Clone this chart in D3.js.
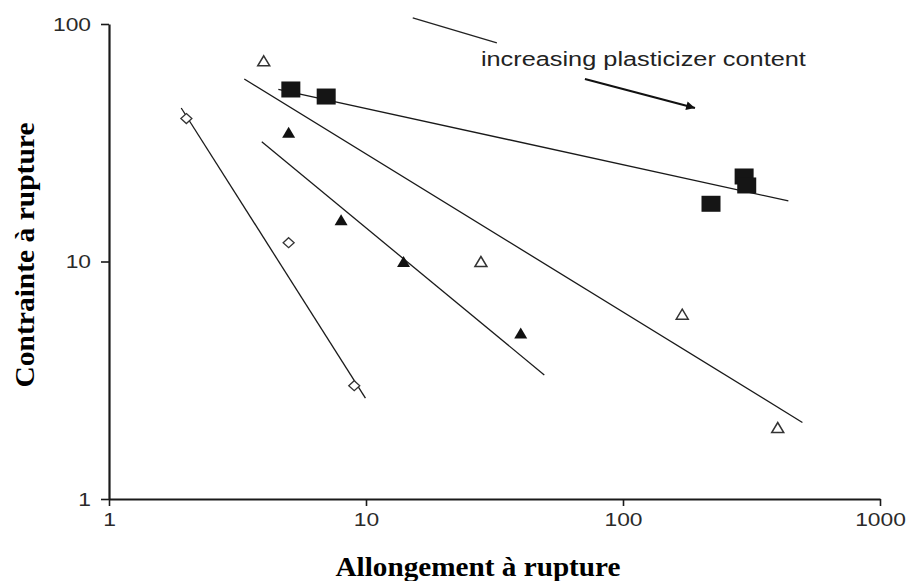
<!DOCTYPE html>
<html>
<head>
<meta charset="utf-8">
<script src="https://cdn.jsdelivr.net/npm/d3@7"></script>
<style>
  html, body { margin: 0; padding: 0; background: #fff; }
  svg { display: block; }
</style>
</head>
<body>
<svg id="chart" width="909" height="581"></svg>
<script>
// Elongation at break (%) vs stress at break (MPa), log-log
const xTicks = [1, 10, 100, 1000];
const yTicks = [1, 10, 100];

// Open diamonds
const diamondX = [2, 5, 9];
const diamondY = [40, 12, 3];
// Filled triangles
const filledTriX = [5, 8, 14, 40];
const filledTriY = [35, 15, 10, 5];
// Open triangles
const openTriX = [4, 28, 170, 400];
const openTriY = [70, 10, 6, 2];
// Filled squares
const squareX = [5.1, 7, 220, 296, 303];
const squareY = [53, 49.5, 17.5, 22.8, 20.9];

// Power-law trend lines (end points)
const diamondFitX = [1.91, 9.95];
const diamondFitY = [44.3, 2.66];
const filledTriFitX = [3.93, 49.4];
const filledTriFitY = [31.9, 3.33];
const openTriFitX = [3.36, 499];
const openTriFitY = [58.7, 2.1];
const squareFitX = [4.56, 440];
const squareFitY = [53.1, 18.0];

// Annotation
const noteText = "increasing plasticizer content";
const noteAt = [28.0, 66.5];
const noteStrokeX = [15.2, 32.3];
const noteStrokeY = [106, 83.2];
const arrowX = [71.1, 190.6];
const arrowY = [58.7, 44.3];

const svg = d3.select("#chart");
const ink = "#1a1a1a";

const x = d3.scaleLog().domain([1, 1000]).range([109, 880]);
const y = d3.scaleLog().domain([1, 100]).range([499, 24]);

// Stretch text horizontally to the wide face used in the figure
function widen(sel, k) {
  sel.each(function () {
    const w = this.getComputedTextLength();
    d3.select(this).attr("textLength", w * k).attr("lengthAdjust", "spacingAndGlyphs");
  });
}

// Axes
const gx = svg.append("g").attr("transform", `translate(0,${y(1)})`)
  .call(d3.axisBottom(x).tickValues(xTicks).tickFormat(d3.format("d"))
    .tickSizeInner(7).tickSizeOuter(0).tickPadding(7));
const gy = svg.append("g").attr("transform", `translate(${x(1)},0)`)
  .call(d3.axisLeft(y).tickValues(yTicks).tickFormat(d3.format("d"))
    .tickSizeInner(8).tickSizeOuter(0).tickPadding(10));

[gx, gy].forEach(g => {
  g.select(".domain").attr("stroke", ink).attr("stroke-width", 2.2);
  g.selectAll(".tick line").attr("stroke", ink).attr("stroke-width", 1.6);
  g.selectAll(".tick text")
    .attr("fill", "#2a2a2a")
    .style("font-family", "'Liberation Sans', Arial, sans-serif")
    .style("font-size", "19px");
});
widen(gx.selectAll(".tick text"), 1.2);
widen(gy.selectAll(".tick text"), 1.2);

// Axis titles
svg.append("text")
  .attr("x", 478).attr("y", 576)
  .attr("text-anchor", "middle")
  .style("font-family", "'Liberation Serif', 'Times New Roman', serif")
  .style("font-weight", "bold").style("font-size", "27px")
  .attr("fill", "#000")
  .attr("textLength", 285).attr("lengthAdjust", "spacingAndGlyphs")
  .text("Allongement à rupture");

svg.append("text")
  .attr("transform", "translate(34,255) rotate(-90)")
  .attr("text-anchor", "middle")
  .style("font-family", "'Liberation Serif', 'Times New Roman', serif")
  .style("font-weight", "bold").style("font-size", "27px")
  .attr("fill", "#000")
  .attr("textLength", 265).attr("lengthAdjust", "spacingAndGlyphs")
  .text("Contrainte à rupture");

// Trend lines
const line = d3.line().x(d => x(d[0])).y(d => y(d[1]));
const fits = [
  [diamondFitX, diamondFitY],
  [filledTriFitX, filledTriFitY],
  [openTriFitX, openTriFitY],
  [squareFitX, squareFitY]
];
svg.append("g").selectAll("path").data(fits).join("path")
  .attr("d", f => line(d3.zip(f[0], f[1])))
  .attr("fill", "none").attr("stroke", ink).attr("stroke-width", 1.3);

// Markers
const tri = (w, h) => `M0,${-h / 2}L${w / 2},${h / 2}L${-w / 2},${h / 2}Z`;
const dia = (w, h) => `M0,${-h / 2}L${w / 2},0L0,${h / 2}L${-w / 2},0Z`;

svg.append("g").selectAll("path").data(d3.zip(diamondX, diamondY)).join("path")
  .attr("transform", d => `translate(${x(d[0])},${y(d[1])})`)
  .attr("d", dia(11, 10))
  .attr("fill", "#fff").attr("stroke", "#333").attr("stroke-width", 1.3);

svg.append("g").selectAll("path").data(d3.zip(filledTriX, filledTriY)).join("path")
  .attr("transform", d => `translate(${x(d[0])},${y(d[1])})`)
  .attr("d", tri(13, 11))
  .attr("fill", "#111");

svg.append("g").selectAll("path").data(d3.zip(openTriX, openTriY)).join("path")
  .attr("transform", d => `translate(${x(d[0])},${y(d[1])})`)
  .attr("d", tri(12, 10))
  .attr("fill", "#fff").attr("stroke", "#333").attr("stroke-width", 1.5);

svg.append("g").selectAll("rect").data(d3.zip(squareX, squareY)).join("rect")
  .attr("x", d => x(d[0]) - 9.5).attr("y", d => y(d[1]) - 8)
  .attr("width", 19).attr("height", 16)
  .attr("fill", "#151515");

// Annotation
svg.append("path")
  .attr("d", line(d3.zip(noteStrokeX, noteStrokeY)))
  .attr("stroke", "#222").attr("stroke-width", 1.3).attr("fill", "none");

svg.append("text")
  .attr("x", x(noteAt[0])).attr("y", y(noteAt[1]))
  .style("font-family", "'Liberation Sans', Arial, sans-serif")
  .style("font-size", "20px")
  .attr("fill", "#222")
  .attr("textLength", 325).attr("lengthAdjust", "spacingAndGlyphs")
  .text(noteText);

svg.append("defs").append("marker")
  .attr("id", "head").attr("viewBox", "0 0 10 10")
  .attr("refX", 10).attr("refY", 5)
  .attr("markerWidth", 5).attr("markerHeight", 4)
  .attr("markerUnits", "strokeWidth")
  .attr("orient", "auto")
  .append("path").attr("d", "M0,0L10,5L0,10Z").attr("fill", "#111");

svg.append("path")
  .attr("d", line(d3.zip(arrowX, arrowY)))
  .attr("stroke", "#111").attr("stroke-width", 2.2).attr("fill", "none")
  .attr("marker-end", "url(#head)");
</script>
</body>
</html>
